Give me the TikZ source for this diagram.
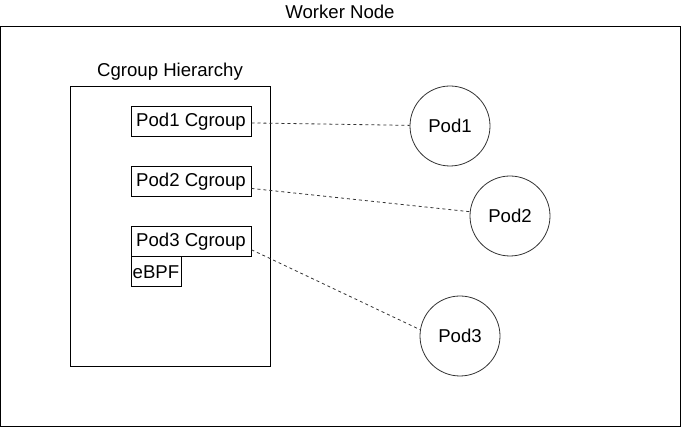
\documentclass[tikz,border=0pt]{standalone}
\usepackage{fontspec}
\setmainfont{Liberation Sans}
\usetikzlibrary{calc}
\begin{document}
\begin{tikzpicture}[x=1pt,y=-1pt,
  every node/.style={font=\fontsize{18.6}{22}\selectfont, inner sep=0pt},
  frame/.style={draw=black, line width=1pt},
  cgbox/.style={draw=black, line width=1pt, minimum width=120pt, minimum height=30pt, anchor=north west},
  podcirc/.style={circle, draw=black!80, line width=0.8pt, minimum size=80pt},
  link/.style={draw=black!80, line width=0.8pt, dash pattern=on 3pt off 3pt}]
\useasboundingbox (0,0) rectangle (681,427);
\draw[frame] (0.5,26.5) rectangle (680.5,426.5);
\node (wn) at (340,12) {Worker Node};
\draw[frame] (70.5,86.5) rectangle (270.5,366.5);
\node (ch) at (170,72) {Cgroup Hierarchy};
\node[cgbox] (c1) at (130.5,106.5) {Pod1 Cgroup};
\node[cgbox] (c2) at (130.5,166.5) {Pod2 Cgroup};
\node[cgbox] (c3) at (130.5,226.5) {Pod3 Cgroup};
\node[cgbox, minimum width=50pt, inner xsep=1pt] (eb) at (130.5,256.5) {eBPF};
\node[podcirc] (p1) at (450,126) {Pod1};
\node[podcirc] (p2) at (510,216) {Pod2};
\node[podcirc] (p3) at (460,336) {Pod3};
\draw[link] (c1) -- (p1);
\draw[link] (c2) -- (p2);
\draw[link] ($(c3.south east)!0.25!(c3.north east)$) -- (p3.171.5);
\end{tikzpicture}
\end{document}
